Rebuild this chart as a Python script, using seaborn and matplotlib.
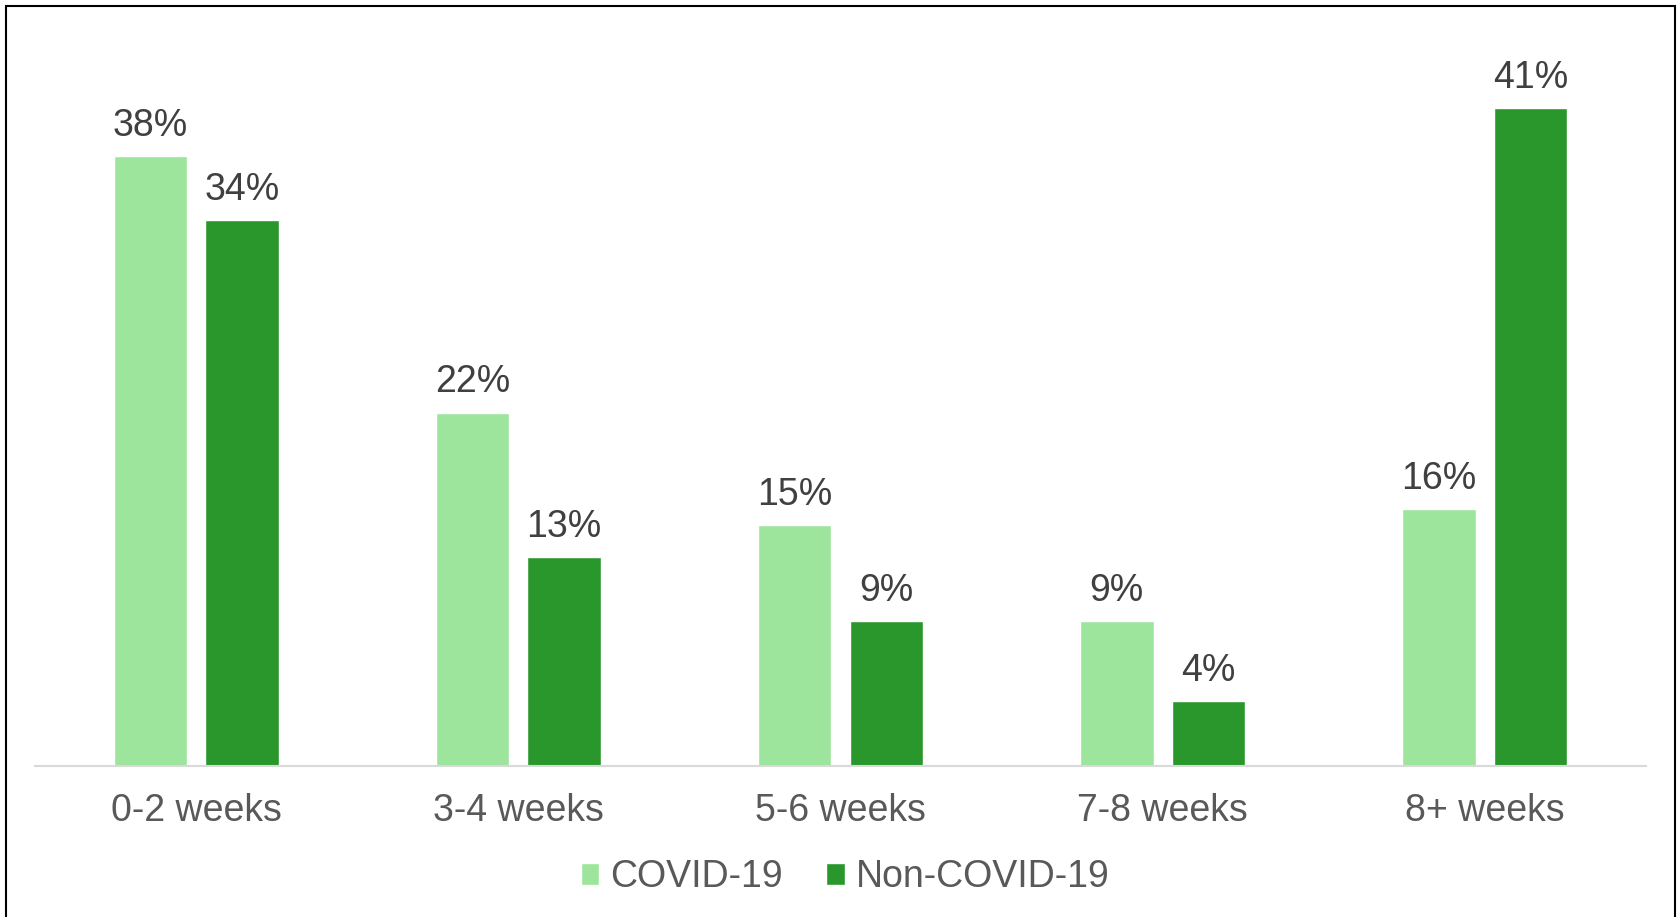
import matplotlib
matplotlib.use("Agg")
import matplotlib.pyplot as plt
from matplotlib.patches import Rectangle
import seaborn as sns
import pandas as pd

# Share of cases by duration, per group
categories = ["0-2 weeks", "3-4 weeks", "5-6 weeks", "7-8 weeks", "8+ weeks"]
series_names = ["COVID-19", "Non-COVID-19"]
covid_values = [38, 22, 15, 9, 16]
non_covid_values = [34, 13, 9, 4, 41]

colors = {"COVID-19": "#9de59c", "Non-COVID-19": "#2a972c"}

df = pd.DataFrame({
    "duration": categories * 2,
    "group": [series_names[0]] * len(categories) + [series_names[1]] * len(categories),
    "share": covid_values + non_covid_values,
})

sns.set_theme(style="white")
plt.rcParams["font.family"] = ["Liberation Sans", "DejaVu Sans"]

W, H = 1679, 917
fig = plt.figure(figsize=(W / 100, H / 100), dpi=100)
ax = fig.add_axes([35 / W, (H - 765.5) / H, (1646 - 35) / W, 722 / H])

sns.barplot(data=df, x="duration", y="share", hue="group", order=categories,
            hue_order=series_names, palette=colors, width=0.569, gap=0.2,
            saturation=1, ax=ax, legend=True)

ax.set_xlim(-0.5, len(categories) - 0.5)
ax.set_ylim(0, 45)
ax.set_xlabel("")
ax.set_ylabel("")
ax.set_yticks([])
for side in ["left", "right", "top"]:
    ax.spines[side].set_visible(False)
ax.spines["bottom"].set_color("#d9d9d9")
ax.spines["bottom"].set_linewidth(1.5)
ax.tick_params(axis="x", length=0, pad=20, labelsize=27, labelcolor="#595959")

# Value labels above each bar
for container in ax.containers:
    for bar in container:
        h = bar.get_height()
        ax.annotate(f"{h:.0f}%", (bar.get_x() + bar.get_width() / 2, h),
                    xytext=(0, 14.5), textcoords="offset points",
                    ha="center", va="baseline", fontsize=27, color="#404040")

leg = ax.legend(loc="center", bbox_to_anchor=(0.503, -0.155), ncol=2, frameon=False,
                fontsize=27, handlelength=0.5, handleheight=0.5,
                handletextpad=0.3, columnspacing=1.15, borderaxespad=0)
for t in leg.get_texts():
    t.set_color("#595959")

# Outer frame around the chart area
fig.patches.append(Rectangle((5.5 / W, -0.01), (1675 - 5.5) / W, (H - 5.5) / H + 0.01,
                             transform=fig.transFigure, fill=False,
                             edgecolor="black", linewidth=1.5))

fig.savefig("out.png", dpi=100)
